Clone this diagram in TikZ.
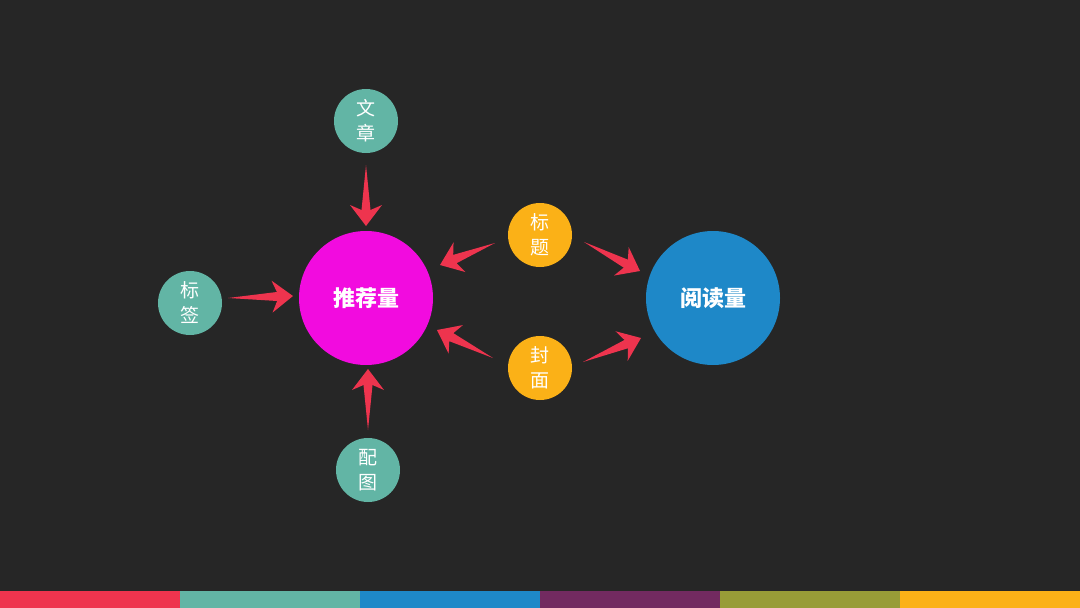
\documentclass[tikz,border=0pt]{standalone}
\usepackage{fontspec}
\newfontfamily\cjk{Noto Sans CJK SC}
\usetikzlibrary{calc}
\definecolor{bg}{HTML}{262626}
\definecolor{arrowred}{HTML}{EE344E}
\definecolor{magentac}{HTML}{F20BDF}
\definecolor{bluec}{HTML}{1E88C8}
\definecolor{tealc}{HTML}{62B5A5}
\definecolor{yellowc}{HTML}{FBB117}
\definecolor{purplec}{HTML}{722A60}
\definecolor{olivec}{HTML}{989C37}
\newcommand\fatarrow[2]{%
  \fill[arrowred] (#1)
    -- ($(#2)!16pt!(#1)!4.5pt!90:(#1)$)
    -- ($(#2)!21pt!(#1)!16pt!90:(#1)$)
    -- (#2)
    -- ($(#2)!21pt!(#1)!16pt!-90:(#1)$)
    -- ($(#2)!16pt!(#1)!4.5pt!-90:(#1)$)
    -- cycle;}
\tikzset{
  bignode/.style={circle, inner sep=0pt, minimum size=134pt, text=white,
    font=\cjk\fontsize{22}{26}\selectfont\bfseries},
  smallnode/.style={circle, inner sep=0pt, minimum size=64pt, text=white, align=center,
    font=\cjk\fontsize{19}{25}\selectfont},
  barseg/.style={inner sep=0pt, minimum width=180pt, minimum height=17pt, anchor=north west}
}
\begin{document}
\begin{tikzpicture}[x=1pt,y=-1pt]
\fill[bg] (0,0) rectangle (1080,608);
\useasboundingbox (0,0) rectangle (1080,608);
% bottom bar
\node[barseg, fill=arrowred] (b1) at (0,591) {};
\node[barseg, fill=tealc] (b2) at (180,591) {};
\node[barseg, fill=bluec] (b3) at (360,591) {};
\node[barseg, fill=purplec] (b4) at (540,591) {};
\node[barseg, fill=olivec] (b5) at (720,591) {};
\node[barseg, fill=yellowc] (b6) at (900,591) {};
% main nodes
\node[bignode, fill=magentac] (rec) at (366,298) {推荐量};
\node[bignode, fill=bluec] (read) at (713,298) {阅读量};
\node[smallnode, fill=tealc] (wen) at (366,121) {文\\章};
\node[smallnode, fill=tealc] (tag) at (190,303) {标\\签};
\node[smallnode, fill=tealc] (pic) at (368,470) {配\\图};
\node[smallnode, fill=yellowc] (title) at (540,235) {标\\题};
\node[smallnode, fill=yellowc] (cover) at (540,368) {封\\面};
% arrow endpoints
\coordinate (a1s) at (366,165); \coordinate (a1e) at (366,226);
\coordinate (a2s) at (228,298); \coordinate (a2e) at (293,296);
\coordinate (a3s) at (368,430); \coordinate (a3e) at (368,369);
\coordinate (a4s) at (495,243); \coordinate (a4e) at (440,265);
\coordinate (a5s) at (584,242); \coordinate (a5e) at (640,271);
\coordinate (a6s) at (493,358); \coordinate (a6e) at (437,330);
\coordinate (a7s) at (583,362); \coordinate (a7e) at (641,338);
\fatarrow{a1s}{a1e}
\fatarrow{a2s}{a2e}
\fatarrow{a3s}{a3e}
\fatarrow{a4s}{a4e}
\fatarrow{a5s}{a5e}
\fatarrow{a6s}{a6e}
\fatarrow{a7s}{a7e}
\end{tikzpicture}
\end{document}
